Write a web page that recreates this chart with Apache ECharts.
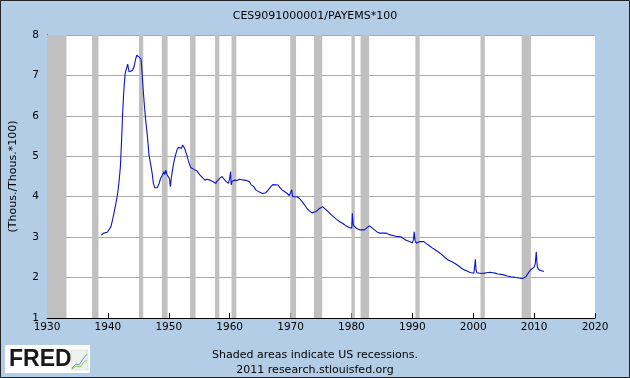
<!DOCTYPE html>
<html>
<head>
<meta charset="utf-8">
<script src="https://cdn.jsdelivr.net/npm/echarts@6/dist/echarts.min.js"></script>
<style>
  html, body { margin: 0; padding: 0; background: #b4cde6; }
  #chart { width: 630px; height: 378px; }
</style>
</head>
<body>
<div id="chart"></div>
<script>
  // CES9091000001/PAYEMS*100
  var years = [
    1938.92, 1939.3, 1939.6, 1939.9, 1940.2, 1940.5, 1940.8, 1941.1, 1941.4, 1941.6,
    1941.85, 1942.05, 1942.25, 1942.4, 1942.55, 1942.7, 1942.85, 1942.97, 1943.1, 1943.25,
    1943.4, 1943.5, 1943.75, 1944.05, 1944.3, 1944.55, 1944.75, 1944.9, 1945.1, 1945.3,
    1945.45, 1945.55, 1945.8, 1946.0, 1946.2, 1946.5, 1946.75, 1947.1, 1947.3, 1947.47,
    1947.7, 1947.84, 1948.1, 1948.4, 1948.65, 1948.9, 1949.2, 1949.35, 1949.5, 1949.7,
    1949.9, 1950.1, 1950.27, 1950.4, 1950.6, 1950.8, 1951.1, 1951.35, 1951.6, 1951.9,
    1952.1, 1952.27, 1952.45, 1952.6, 1952.8, 1952.97, 1953.2, 1953.35, 1953.6, 1953.8,
    1954.2, 1954.6, 1954.9, 1955.1, 1955.5, 1955.95, 1956.3, 1956.75, 1957.0, 1957.3,
    1957.5, 1957.7, 1957.9, 1958.1, 1958.4, 1958.75, 1959.0, 1959.2, 1959.4, 1959.6,
    1959.8, 1960.0, 1960.15, 1960.25, 1960.4, 1960.6, 1960.8, 1961.2, 1961.6, 1962.0,
    1962.4, 1962.8, 1963.25, 1963.5, 1963.95, 1964.3, 1964.8, 1965.4, 1965.95, 1966.4,
    1966.76, 1967.1, 1967.4, 1967.95, 1968.3, 1968.6, 1969.0, 1969.45, 1969.8, 1970.0,
    1970.2, 1970.35, 1970.6, 1971.1, 1971.5, 1971.9, 1972.3, 1972.7, 1973.1, 1973.5,
    1973.8, 1974.06, 1974.4, 1974.75, 1975.05, 1975.3, 1975.6, 1975.9, 1976.3, 1976.7,
    1977.1, 1977.55, 1978.1, 1978.65, 1979.1, 1979.6, 1979.9, 1980.05, 1980.15, 1980.3,
    1980.45, 1980.8, 1981.35, 1981.8, 1982.15, 1982.6, 1982.97, 1983.4, 1983.8, 1984.2,
    1984.6, 1985.1, 1985.67, 1986.1, 1986.5, 1987.3, 1988.1, 1988.5, 1988.9, 1989.5,
    1990.0, 1990.2, 1990.3, 1990.45, 1990.65, 1991.2, 1991.9, 1992.3, 1992.7, 1993.2,
    1993.8, 1994.4, 1994.9, 1995.4, 1995.95, 1996.5, 1997.0, 1997.5, 1998.1, 1998.5,
    1998.9, 1999.3, 1999.7, 2000.1, 2000.25, 2000.35, 2000.45, 2000.6, 2000.8, 2001.35,
    2001.8, 2002.2, 2002.7, 2003.25, 2003.6, 2004.05, 2004.6, 2005.1, 2005.6, 2006.2,
    2006.6, 2007.0, 2007.5, 2008.1, 2008.4, 2008.65, 2008.9, 2009.2, 2009.5, 2009.7,
    2010.0, 2010.2, 2010.35, 2010.45, 2010.55, 2010.8, 2011.2, 2011.6
  ]
  var ratio = [
    3.05, 3.10, 3.08, 3.12, 3.14, 3.26, 3.45, 3.67, 3.90, 4.08,
    4.40, 4.74, 5.40, 5.98, 6.45, 6.81, 7.05, 7.13, 7.20, 7.28,
    7.15, 7.09, 7.12, 7.13, 7.22, 7.40, 7.50, 7.47, 7.46, 7.44,
    7.40, 7.20, 6.64, 6.25, 5.90, 5.48, 5.03, 4.74, 4.55, 4.33,
    4.22, 4.25, 4.22, 4.32, 4.45, 4.52, 4.62, 4.55, 4.66, 4.55,
    4.50, 4.45, 4.25, 4.45, 4.65, 4.83, 5.02, 5.16, 5.22, 5.24,
    5.20, 5.28, 5.24, 5.20, 5.10, 5.03, 4.90, 4.83, 4.72, 4.68,
    4.67, 4.64, 4.60, 4.54, 4.48, 4.41, 4.43, 4.41, 4.40, 4.37,
    4.40, 4.33, 4.38, 4.41, 4.46, 4.50, 4.45, 4.41, 4.38, 4.37,
    4.33, 4.45, 4.62, 4.29, 4.38, 4.41, 4.41, 4.40, 4.43, 4.42,
    4.41, 4.40, 4.37, 4.30, 4.25, 4.17, 4.12, 4.08, 4.10, 4.18,
    4.25, 4.30, 4.33, 4.29, 4.22, 4.17, 4.13, 4.08, 4.03, 4.00,
    4.17, 4.00, 4.02, 4.00, 3.95, 3.88, 3.80, 3.71, 3.65, 3.60,
    3.61, 3.63, 3.66, 3.71, 3.74, 3.75, 3.71, 3.67, 3.61, 3.55,
    3.50, 3.44, 3.38, 3.33, 3.28, 3.24, 3.20, 3.22, 3.59, 3.30,
    3.26, 3.22, 3.18, 3.18, 3.18, 3.24, 3.28, 3.23, 3.18, 3.13,
    3.10, 3.10, 3.10, 3.07, 3.05, 3.02, 3.01, 2.97, 2.93, 2.89,
    2.86, 2.95, 3.13, 2.92, 2.85, 2.89, 2.89, 2.84, 2.80, 2.74,
    2.68, 2.62, 2.56, 2.49, 2.43, 2.39, 2.35, 2.30, 2.23, 2.19,
    2.17, 2.14, 2.12, 2.11, 2.30, 2.45, 2.20, 2.12, 2.09, 2.10,
    2.11, 2.12, 2.13, 2.12, 2.11, 2.09, 2.08, 2.06, 2.04, 2.02,
    2.01, 2.00, 1.99, 1.98, 1.99, 2.02, 2.08, 2.15, 2.20, 2.23,
    2.26, 2.35, 2.64, 2.40, 2.25, 2.19, 2.17, 2.15
  ]
  // US recessions (start, end) as decimal years
  var recessionStart = [1930, 1937.4, 1945.1, 1948.85, 1953.5, 1957.6, 1960.3, 1969.95, 1973.85, 1980.0, 1981.5, 1990.5, 2001.2, 2007.95]
  var recessionEnd = [1933.2, 1938.45, 1945.8, 1949.8, 1954.4, 1958.3, 1961.1, 1970.9, 1975.2, 1980.55, 1982.9, 1991.2, 2001.9, 2009.5]
  var yTicks = [1, 8, 1] // min, max, interval
  var xTicks = [1930, 2020, 10]

  var font = 'DejaVu Sans'
  var chart = echarts.init(document.getElementById('chart'), null, {renderer: 'canvas'})

  var points = years.map(function (y, i) {
    return [y, ratio[i]]
  })
  var bands = recessionStart.map(function (s, i) {
    return [{xAxis: s}, {xAxis: recessionEnd[i]}]
  })

  chart.setOption({
    backgroundColor: '#b4cde6',
    animation: false,
    title: {
      text: 'CES9091000001/PAYEMS*100',
      left: 'center',
      top: 6,
      textStyle: {fontFamily: font, fontSize: 11, fontWeight: 'normal', color: '#000'}
    },
    grid: {
      left: 40,
      right: 35,
      top: 35,
      bottom: 60,
      show: true,
      backgroundColor: '#fff',
      borderWidth: 0
    },
    xAxis: {
      type: 'value',
      min: xTicks[0],
      max: xTicks[1],
      interval: xTicks[2],
      axisLine: {show: true, lineStyle: {color: '#000', width: 1}},
      axisTick: {show: true, inside: true, length: 5, lineStyle: {color: '#000'}},
      axisLabel: {
        fontFamily: font, fontSize: 10.5, color: '#000', margin: 4,
        formatter: function (v) { return String(v) }
      },
      splitLine: {show: false}
    },
    yAxis: {
      type: 'value',
      min: yTicks[0],
      max: yTicks[1],
      interval: yTicks[2],
      name: '(Thous./Thous.*100)',
      nameLocation: 'middle',
      nameRotate: 90,
      nameGap: 28,
      nameTextStyle: {fontFamily: font, fontSize: 11, color: '#000'},
      axisLine: {show: true, lineStyle: {color: '#000', width: 1}},
      axisTick: {show: false},
      axisLabel: {fontFamily: font, fontSize: 10.5, color: '#000', margin: 8},
      splitLine: {show: true, lineStyle: {color: '#a8a8a8', width: 1}}
    },
    series: [{
      type: 'line',
      data: points,
      showSymbol: false,
      symbol: 'none',
      lineStyle: {color: '#0a14c8', width: 1.1},
      markArea: {
        silent: true,
        itemStyle: {color: '#c0c0c0', opacity: 1},
        data: bands
      }
    }],
    graphic: [
      {
        type: 'text',
        left: 'center',
        top: 350,
        style: {text: 'Shaded areas indicate US recessions.', font: '11px ' + font, fill: '#000'}
      },
      {
        type: 'text',
        left: 'center',
        top: 365,
        style: {text: '2011 research.stlouisfed.org', font: '11px ' + font, fill: '#000'}
      },
      {
        type: 'rect',
        shape: {x: 5, y: 345, width: 85, height: 28},
        style: {fill: '#fff'}
      },
      {
        type: 'text',
        x: 9,
        y: 348,
        style: {text: 'FRED', font: 'bold 23px "Liberation Sans"', fill: '#1a1a1a'}
      },
      {
        type: 'rect',
        shape: {x: 71, y: 350, width: 17, height: 20},
        style: {fill: '#eef2ee', stroke: '#ccc', lineWidth: 0.5}
      },
      {
        type: 'polyline',
        shape: {points: [[72, 368], [76, 364], [79, 365], [83, 359], [87, 354]]},
        style: {stroke: '#5a9fd0', lineWidth: 1, fill: null}
      },
      {
        type: 'polyline',
        shape: {points: [[72, 369], [76, 366], [80, 367], [84, 362], [87, 360]]},
        style: {stroke: '#8cbf4a', lineWidth: 1, fill: null}
      },
      {
        type: 'rect',
        shape: {x: 0.5, y: 0.5, width: 629, height: 377},
        style: {fill: null, stroke: '#222', lineWidth: 1}
      }
    ]
  })
</script>
</body>
</html>
